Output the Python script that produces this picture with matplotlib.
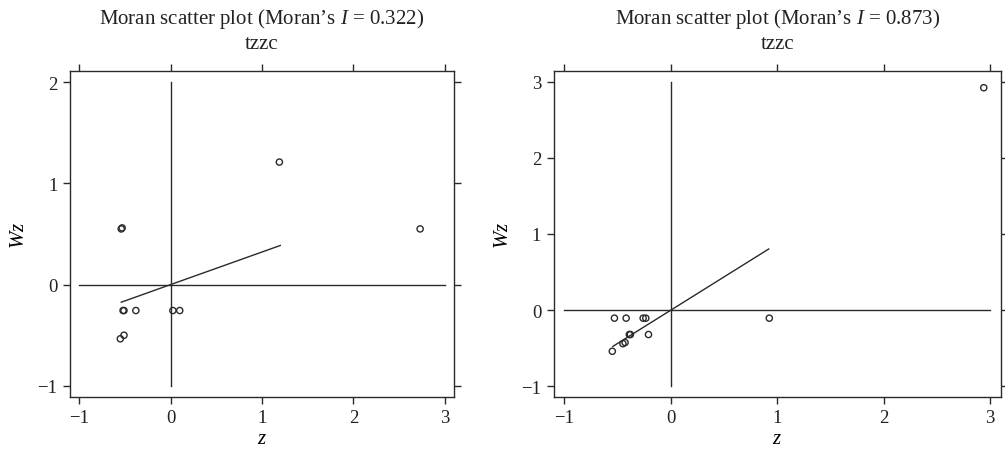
import matplotlib
matplotlib.use("Agg")
import matplotlib.pyplot as plt
import numpy as np

plt.rcParams['font.family'] = ['Liberation Serif', 'DejaVu Serif']
plt.rcParams['mathtext.fontset'] = 'custom'
plt.rcParams['mathtext.rm'] = 'Liberation Serif'
plt.rcParams['mathtext.it'] = 'Liberation Serif:italic'

# ---- data ----
titles_sub = ["tzzc", "tzzc"]
moran_I = [0.322, 0.873]

z_left = [-0.54, -0.53, 1.19, 2.73, -0.52, -0.51, -0.38, 0.025, 0.10, -0.55, -0.51]
wz_left = [0.55, 0.56, 1.21, 0.55, -0.256, -0.256, -0.256, -0.256, -0.256, -0.535, -0.50]

z_right = [-0.53, -0.42, -0.26, -0.235, 0.925, -0.39, -0.38, -0.21, -0.45, -0.43, -0.55, 2.94]
wz_right = [-0.105, -0.105, -0.105, -0.105, -0.105, -0.32, -0.32, -0.32, -0.44, -0.425, -0.54, 2.92]

fit_z_left = [-0.54, 1.2]
fit_z_right = [-0.545, 0.92]

xticks = [-1, 0, 1, 2, 3]
yticks_left = [-1, 0, 1, 2]
yticks_right = [-1, 0, 1, 2, 3]

xlim = (-1.1, 3.1)
ylim_left = (-1.11, 2.11)
ylim_right = (-1.14, 3.14)

hline_span = (-1, 3)
vline_span_left = (-1, 2)
vline_span_right = (-1, 3)

# ---- figure ----
fig = plt.figure(figsize=(10.05, 4.56), dpi=100)
ax1 = fig.add_axes([0.0697, 0.1272, 0.3820, 0.7150])
ax2 = fig.add_axes([0.5510, 0.1272, 0.4448, 0.7150])

col = '#2a2a2a'

def draw(ax, z, wz, I, fitz, yticks, ylim, vspan, sub):
    ax.set_xlim(*xlim)
    ax.set_ylim(*ylim)
    ax.plot(hline_span, [0, 0], color=col, lw=1.0)
    ax.plot([0, 0], vspan, color=col, lw=1.0)
    fz = np.array(fitz)
    ax.plot(fz, I * fz, color=col, lw=1.0)
    ax.scatter(z, wz, s=20, facecolors='none', edgecolors=col, linewidths=1.0, zorder=3)
    ax.set_xticks(xticks)
    ax.set_yticks(yticks)
    ax.set_xticklabels(["\u22121" if t == -1 else str(t) for t in xticks])
    ax.set_yticklabels(["\u22121" if t == -1 else str(t) for t in yticks])
    ax.tick_params(direction='out', length=5, width=1.0, color=col, labelsize=13.5,
                   top=True, right=True, labelcolor='#222222', pad=4)
    for s in ax.spines.values():
        s.set_color(col)
        s.set_linewidth(1.0)
    ax.set_xlabel('$z$', fontsize=15, labelpad=2)
    ax.set_ylabel('$Wz$', fontsize=15, labelpad=6)
    ax.text(0.5, 1.0 + 53/326.0, 'Moran scatter plot (Moran\u2019s $I$ = %.3f)' % I,
            transform=ax.transAxes, ha='center', va='center', fontsize=15, color='#222222')
    ax.text(0.5, 1.0 + 27/326.0, sub, transform=ax.transAxes, ha='center', va='center',
            fontsize=15, color='#222222')

draw(ax1, z_left, wz_left, moran_I[0], fit_z_left, yticks_left, ylim_left, vline_span_left, titles_sub[0])
draw(ax2, z_right, wz_right, moran_I[1], fit_z_right, yticks_right, ylim_right, vline_span_right, titles_sub[1])

fig.savefig('out.png', dpi=100)
